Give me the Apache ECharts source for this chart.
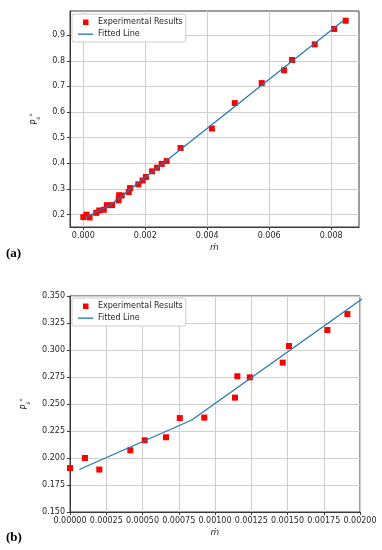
<!DOCTYPE html>
<html><head><meta charset="utf-8">
<script src="https://cdn.jsdelivr.net/npm/echarts@6/dist/echarts.min.js"></script>
<style>html,body{margin:0;padding:0;background:#fff}#c{width:382px;height:550px}</style>
</head><body><div id="c"></div>
<script>
// Low-flow measurements (shown in both panels)
const mdotLow = [0.0000, 0.000103, 0.000202, 0.000416, 0.000515, 0.000662, 0.000757, 0.000926, 0.001138, 0.001154, 0.001240, 0.001467, 0.001510, 0.001775, 0.001913];
const psLow   = [0.1907, 0.2000, 0.1893, 0.2071, 0.2164, 0.2192, 0.2370, 0.2374, 0.2559, 0.2757, 0.2747, 0.2883, 0.3037, 0.3185, 0.3333];
// Higher-flow measurements (panel a only)
const mdotHigh = [0.00202, 0.00222, 0.00238, 0.00253, 0.00269, 0.00314, 0.00415, 0.00489, 0.00576, 0.00648, 0.00674, 0.00747, 0.00810, 0.00847];
const psHigh   = [0.347, 0.369, 0.383, 0.398, 0.409, 0.460, 0.536, 0.635, 0.713, 0.763, 0.803, 0.864, 0.924, 0.956];
// Fitted line vertices
const fitMdot = [0.000064, 0.00084, 0.0084];
const fitPs   = [0.1893, 0.2352, 0.957];
// Tick values
const xTicksA = [0, 0.002, 0.004, 0.006, 0.008];
const yTicksA = [0.2, 0.3, 0.4, 0.5, 0.6, 0.7, 0.8, 0.9];
const xTicksB = [0, 0.00025, 0.0005, 0.00075, 0.001, 0.00125, 0.0015, 0.00175, 0.002];
const yTicksB = [0.15, 0.175, 0.2, 0.225, 0.25, 0.275, 0.3, 0.325, 0.35];
const seriesNames = ['Experimental Results', 'Fitted Line'];
const panelLabels = ['(a)', '(b)'];

const zip = (a, b) => a.map((v, i) => [v, b[i]]);
const allA = zip(mdotLow.concat(mdotHigh), psLow.concat(psHigh));
const lowB = zip(mdotLow, psLow);
const fit = zip(fitMdot, fitPs);

const FONT = 'DejaVu Sans';
const gridCol = '#cfcfcf', frameCol = '#3a3a3a', txtCol = '#262626';
const sqIcon = 'path://M0,0M5,1h5.5v5.5h-5.5zM15,7';
const lnIcon = 'path://M0,0M0,3h15v1.3h-15zM15,7';

function xAxis(gi, min, max, ticks, dec, gap) {
  return {
    type: 'value', gridIndex: gi, min: min, max: max,
    name: 'ṁ', nameLocation: 'middle', nameGap: gap,
    nameTextStyle: {fontFamily: FONT, fontStyle: 'italic', fontSize: 9, color: txtCol},
    axisLine: {show: true, onZero: false, lineStyle: {color: frameCol, width: 1}},
    axisTick: {show: true, length: 3, customValues: ticks, lineStyle: {color: frameCol}},
    axisLabel: {customValues: ticks, interval: 0, margin: 5, fontFamily: FONT, fontSize: 8, color: txtCol,
      formatter: v => Number(v).toFixed(dec)},
    splitLine: {show: true, lineStyle: {color: gridCol, width: 1}}
  };
}
function yAxis(gi, min, max, ticks, dec, gap) {
  return {
    type: 'value', gridIndex: gi, min: min, max: max,
    name: '{p|P}{s|s}{t|*}', nameLocation: 'middle', nameGap: gap, nameRotate: 90,
    nameTextStyle: {fontFamily: FONT, color: txtCol, rich: {
      p: {fontStyle: 'italic', fontSize: 8, fontFamily: FONT, color: txtCol, lineHeight: 12, verticalAlign: 'middle'},
      s: {fontStyle: 'italic', fontSize: 6, fontFamily: FONT, color: txtCol, lineHeight: 12, verticalAlign: 'bottom'},
      t: {fontSize: 6, fontFamily: FONT, color: txtCol, lineHeight: 12, verticalAlign: 'top'}
    }},
    axisLine: {show: true, onZero: false, lineStyle: {color: frameCol, width: 1}},
    axisTick: {show: true, length: 3, customValues: ticks, lineStyle: {color: frameCol}},
    axisLabel: {customValues: ticks, interval: 0, margin: 5, fontFamily: FONT, fontSize: 8, color: txtCol,
      formatter: v => Number(v).toFixed(dec)},
    splitLine: {show: true, lineStyle: {color: gridCol, width: 1}}
  };
}
function legend(left, top) {
  return {
    left: left, top: top, orient: 'vertical', itemWidth: 15, itemHeight: 7, itemGap: 4,
    padding: [4, 3, 4, 6], backgroundColor: '#fff', borderColor: '#cccccc', borderWidth: 1, borderRadius: 2,
    textStyle: {fontFamily: FONT, fontSize: 8, color: txtCol},
    data: [
      {name: seriesNames[0], icon: sqIcon, itemStyle: {color: '#ff0000', borderWidth: 0}},
      {name: seriesNames[1], icon: lnIcon, itemStyle: {color: '#1f77b4', borderWidth: 0}}
    ]
  };
}

const chart = echarts.init(document.getElementById('c'), null, {renderer: 'canvas'});
chart.setOption({
  animation: false,
  backgroundColor: '#fff',
  title: [
    {text: panelLabels[0], left: 6, top: 247, padding: 0, textStyle: {fontFamily: 'Liberation Serif', fontWeight: 'bold', fontSize: 13, color: '#000'}},
    {text: panelLabels[1], left: 6, top: 531, padding: 0, textStyle: {fontFamily: 'Liberation Serif', fontWeight: 'bold', fontSize: 13, color: '#000'}}
  ],
  grid: [
    {left: 70, top: 11, width: 289, height: 216, show: true, borderColor: frameCol, borderWidth: 1, backgroundColor: 'transparent'},
    {left: 70, top: 296, width: 290, height: 216, show: true, borderColor: frameCol, borderWidth: 1, backgroundColor: 'transparent'}
  ],
  xAxis: [
    xAxis(0, -0.00043, 0.0089, xTicksA, 3, 16),
    xAxis(1, 0, 0.002, xTicksB, 5, 16)
  ],
  yAxis: [
    yAxis(0, 0.152, 0.994, yTicksA, 1, 25),
    yAxis(1, 0.15, 0.35, yTicksB, 3, 33)
  ],
  legend: [legend(72, 14), legend(72, 298)],
  series: [
    {name: seriesNames[0], type: 'scatter', xAxisIndex: 0, yAxisIndex: 0, symbol: 'rect', symbolSize: 6,
      itemStyle: {color: '#ff0000', opacity: 1}, data: allA, z: 3},
    {name: seriesNames[1], type: 'line', xAxisIndex: 0, yAxisIndex: 0, symbol: 'none', showSymbol: false,
      lineStyle: {color: '#1f77b4', width: 1.2}, itemStyle: {color: '#1f77b4'}, data: fit, z: 4},
    {name: seriesNames[0], type: 'scatter', xAxisIndex: 1, yAxisIndex: 1, symbol: 'rect', symbolSize: 6,
      itemStyle: {color: '#ff0000', opacity: 1}, data: lowB, z: 3},
    {name: seriesNames[1], type: 'line', xAxisIndex: 1, yAxisIndex: 1, symbol: 'none', showSymbol: false, clip: true,
      lineStyle: {color: '#1f77b4', width: 1.2}, itemStyle: {color: '#1f77b4'}, data: fit, z: 4}
  ]
});
</script>
</body></html>
